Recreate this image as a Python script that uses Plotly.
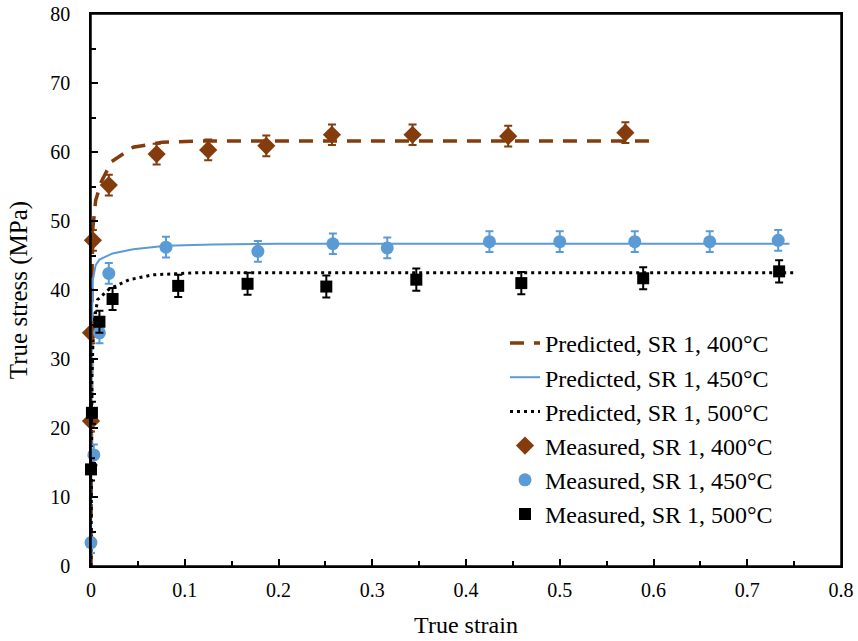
import plotly.graph_objects as go

# Predicted curves
pred400_strain = [0, 0.0005, 0.001, 0.002, 0.005, 0.011, 0.022, 0.045, 0.076, 0.12, 0.2, 0.3, 0.4, 0.5, 0.6]
pred400_stress = [0, 30, 42, 49, 53, 55.7, 58.6, 60.7, 61.4, 61.6, 61.6, 61.6, 61.6, 61.6, 61.6]
pred450_strain = [0, 0.0005, 0.001, 0.002, 0.005, 0.009, 0.023, 0.045, 0.08, 0.13, 0.2, 0.4, 0.6, 0.745]
pred450_stress = [0, 25, 36, 41.5, 43.6, 44.4, 45.3, 45.9, 46.4, 46.6, 46.7, 46.7, 46.7, 46.7]
pred500_strain = [0, 0.0005, 0.001, 0.002, 0.004, 0.007, 0.02, 0.041, 0.066, 0.112, 0.2, 0.4, 0.6, 0.75]
pred500_stress = [0, 18, 27, 32, 36, 38.6, 40.2, 41.5, 42.2, 42.5, 42.5, 42.5, 42.5, 42.5]

# Measured points
meas400_strain = [0.0, 0.0, 0.002, 0.019, 0.070, 0.125, 0.187, 0.257, 0.343, 0.445, 0.570]
meas400_stress = [21.0, 33.8, 47.2, 55.2, 59.7, 60.3, 60.9, 62.5, 62.5, 62.3, 62.8]
meas400_err = [1.5] * len(meas400_strain)
meas450_strain = [0.0, 0.003, 0.009, 0.019, 0.080, 0.178, 0.258, 0.316, 0.425, 0.500, 0.580, 0.660, 0.733]
meas450_stress = [3.4, 16.1, 33.8, 42.4, 46.2, 45.6, 46.7, 46.1, 47.0, 47.0, 47.0, 47.0, 47.2]
meas450_err = [1.5] * len(meas450_strain)
meas500_strain = [0.0, 0.001, 0.009, 0.023, 0.093, 0.167, 0.251, 0.347, 0.459, 0.589, 0.734]
meas500_stress = [14.0, 22.2, 35.4, 38.7, 40.6, 40.9, 40.5, 41.5, 41.0, 41.7, 42.7]
meas500_err = [1.6] * len(meas500_strain)

BROWN = "#843C0C"
BLUE = "#5B9BD5"
BLACK = "#000000"
FONT = "Liberation Serif, Times New Roman, serif"

fig = go.Figure()

fig.add_trace(go.Scatter(x=pred400_strain, y=pred400_stress, mode="lines",
                         name="Predicted, SR 1, 400°C", legendgroup="a",
                         line=dict(color=BROWN, width=3.5, dash="14px,10px")))
fig.add_trace(go.Scatter(x=pred450_strain, y=pred450_stress, mode="lines",
                         name="Predicted, SR 1, 450°C", legendgroup="b",
                         line=dict(color=BLUE, width=2)))
fig.add_trace(go.Scatter(x=pred500_strain, y=pred500_stress, mode="lines",
                         name="Predicted, SR 1, 500°C", legendgroup="c",
                         line=dict(color=BLACK, width=3, dash="3px,4px")))

def meas(x, y, e, name, color, symbol, size, grp):
    return go.Scatter(x=x, y=y, mode="markers", name=name, legendgroup=grp,
                      cliponaxis=False,
                      marker=dict(color=color, symbol=symbol, size=size),
                      error_y=dict(type="data", array=e, visible=True,
                                   color=color, thickness=2, width=4))

fig.add_trace(meas(meas400_strain, meas400_stress, meas400_err,
                   "Measured, SR 1, 400°C", BROWN, "diamond", 14, "d"))
fig.add_trace(meas(meas450_strain, meas450_stress, meas450_err,
                   "Measured, SR 1, 450°C", BLUE, "circle", 13, "e"))
fig.add_trace(meas(meas500_strain, meas500_stress, meas500_err,
                   "Measured, SR 1, 500°C", BLACK, "square", 12, "f"))

axis_common = dict(showline=True, linecolor="black", linewidth=1.5, mirror=True,
                   ticks="inside", ticklen=7, tickwidth=1.5, tickcolor="black",
                   showgrid=False, zeroline=False, automargin=False,
                   ticklabeloverflow="allow",
                   tickfont=dict(family=FONT, size=20, color="black"))

fig.update_xaxes(range=[0, 0.8], dtick=0.1, tickformat="~g", ticklabelstandoff=5,
                 minor=dict(ticks="inside", ticklen=5, tickwidth=1.5, tickcolor="black", dtick=0.05),
                 title=dict(text="True strain", font=dict(family=FONT, size=24, color="black"), standoff=16),
                 **axis_common)
fig.update_yaxes(range=[0, 80], dtick=10, ticklabelstandoff=15,
                 minor=dict(ticks="inside", ticklen=5, tickwidth=1.5, tickcolor="black", dtick=5),
                 title=dict(text="True stress (MPa)", font=dict(family=FONT, size=25, color="black"), standoff=16),
                 **axis_common)

# plot frame
fig.add_shape(type="rect", xref="paper", yref="paper", x0=0, x1=1, y0=0, y1=1,
              line=dict(color="black", width=1.5), layer="above")

fig.update_layout(
    width=858, height=641,
    margin=dict(l=91, r=17, t=14, b=75),
    paper_bgcolor="white", plot_bgcolor="white",
    font=dict(family=FONT, color="black"),
    legend=dict(x=0.552, y=0.444, xanchor="left", yanchor="top",
                traceorder="grouped", tracegroupgap=0,
                bgcolor="rgba(0,0,0,0)",
                font=dict(family=FONT, size=24, color="black")),
)

# remove the default page margin so the figure sits at the window's corner
fig.write_html("out.html", config={"displayModeBar": False},
               post_script="document.body.style.margin='0';")
